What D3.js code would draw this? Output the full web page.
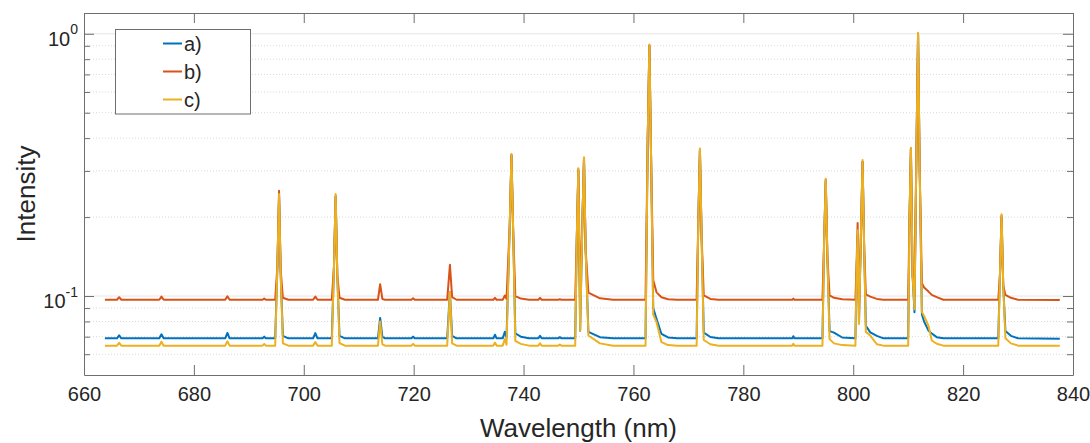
<!DOCTYPE html>
<html>
<head>
<meta charset="utf-8">
<script src="https://cdn.jsdelivr.net/npm/d3@7"></script>
<style>
  html, body { margin: 0; padding: 0; background: #fff; }
  svg { display: block; font-family: "Liberation Sans", Arial, Helvetica, sans-serif; }
</style>
</head>
<body>
<svg id="chart"></svg>
<script>
// wavelength grid (nm), shared by the three spectra
const wavelengths = [
  663.8, 666.0, 666.4, 666.8,
  673.7, 674.1, 674.5,
  685.7, 686.1, 686.5,
  692.5, 692.8, 693.1,
  694.8, 695.2, 695.5, 695.8, 696.2, 697.2,
  701.7, 702.1, 702.5,
  705.1, 705.5, 705.8, 706.1, 706.5, 707.5,
  713.5, 713.9, 714.3, 714.8,
  719.6, 719.9, 720.2,
  726.1, 726.6, 727.0, 727.8,
  734.5, 734.8, 735.1, 736.2, 736.6, 736.9,
  737.5, 737.8, 738.1, 738.5, 739.5, 741,
  742.7, 743, 743.3, 746.3, 746.6, 746.9,
  749.4, 749.7, 749.97, 750.3, 750.7, 751.0, 751.3, 751.8, 753.9, 756.3,
  762.2, 762.6, 762.9, 763.2, 763.6, 764.2, 765.1, 766.3, 768,
  771.5, 771.8, 772.1, 772.4, 772.8, 774, 775.5,
  788.9, 789.1, 789.3,
  794.4, 794.7, 795.0, 795.3, 795.7, 796.5, 798,
  800.4, 800.6, 800.8, 801.05, 801.4, 801.7, 802.0, 802.3, 803.1, 804.3, 805.5,
  810.0, 810.25, 810.5, 810.8, 811.15, 811.5, 811.8, 812.1, 812.5, 812.9, 813.7, 814.3, 815.2, 816.4,
  826.4, 826.7, 827.0, 827.3, 827.7, 828.7, 830, 837.6
]

// a)
const seriesA = [
  .069, .069, .0708, .069,
  .069, .0715, .069,
  .069, .0723, .069,
  .069, .07, .069,
  .069, .13, .24, .12, .0705, .069,
  .069, .0722, .069,
  .069, .13, .24, .12, .0705, .069,
  .069, .0825, .07, .069,
  .069, .07, .069,
  .069, .1036, .0705, .069,
  .069, .0712, .069, .069, .073, .0695,
  .19, .345, .18, .072, .07, .069,
  .069, .0705, .069, .069, .0697, .069,
  .069, .17, .30, .0738, .19, .335, .15, .073, .0697, .069,
  .069, .4, .90, .35, .09, .0818, .0717, .0695, .069,
  .069, .19, .36, .17, .0725, .0698, .069,
  .069, .0703, .069,
  .069, .16, .275, .14, .0735, .0725, .0695,
  .069, .12, .17, .079, .17, .325, .15, .077, .0727, .0705, .069,
  .069, .2, .365, .12, .0867, .35, 1.0, .3, .085, .08, .0738, .072, .0697, .069,
  .069, .12, .2, .11, .0735, .0705, .069, .0688
]

// b)
const seriesB = [
  .0968, .0968, .099, .0968,
  .0968, .0995, .0968,
  .0968, .0998, .0968,
  .0968, .0978, .0968,
  .0968, .13, .252, .125, .0985, .0968,
  .0968, .0995, .0968,
  .0968, .13, .24, .12, .0985, .0968,
  .0968, .111, .0975, .0968,
  .0968, .098, .0968,
  .0968, .1315, .099, .0968,
  .0968, .0985, .0968, .0968, .1005, .0975,
  .19, .345, .18, .1, .0978, .0968,
  .0968, .0985, .0968, .0968, .0972, .0968,
  .0968, .17, .305, .1, .19, .335, .15, .103, .098, .0968,
  .0968, .4, .905, .35, .115, .1033, .099, .0972, .0968,
  .0968, .19, .36, .17, .1005, .0975, .0968,
  .0968, .0978, .0968,
  .0968, .16, .278, .14, .1005, .0985, .0972,
  .0968, .13, .19, .09, .17, .325, .15, .1015, .0995, .0975, .0968,
  .0968, .2, .365, .12, .1, .35, 1.0, .3, .112, .1078, .104, .101, .099, .0968,
  .0968, .12, .203, .11, .101, .0985, .0968, .0965
]

// c)
const seriesC = [
  .0647, .0647, .0663, .0647,
  .0647, .067, .0647,
  .0647, .0672, .0647,
  .0647, .0656, .0647,
  .0647, .13, .245, .12, .066, .0647,
  .0647, .0668, .0647,
  .0647, .13, .245, .12, .0662, .0647,
  .0647, .08, .0655, .0647,
  .0647, .0657, .0647,
  .0647, .1036, .066, .0647,
  .0647, .0665, .0647, .0647, .0685, .0652,
  .19, .348, .18, .0675, .0657, .0647,
  .0647, .066, .0647, .0647, .0653, .0647,
  .0647, .17, .307, .0738, .19, .338, .15, .0707, .066, .0647,
  .0647, .4, .91, .35, .085, .0795, .0667, .065, .0647,
  .0647, .19, .365, .17, .068, .0655, .0647,
  .0647, .0657, .0647,
  .0647, .16, .28, .14, .0685, .066, .065,
  .0647, .12, .178, .0783, .17, .33, .15, .073, .0707, .0655, .0647,
  .0647, .2, .368, .12, .089, .35, 1.01, .3, .087, .084, .077, .0677, .0658, .0647,
  .0647, .12, .205, .11, .069, .066, .0647, .0646
]

const seriesNames = ['a)', 'b)', 'c)']
const seriesColors = ['#0072BD', '#D95319', '#EDB120']

const xTicks = [660, 680, 700, 720, 740, 760, 780, 800, 820, 840]
const yMajorTicks = [0.1, 1]
const yMinorTicks = [0.06, 0.07, 0.08, 0.09, 0.2, 0.3, 0.4, 0.5, 0.6, 0.7, 0.8, 0.9]
const yTickExponents = ['-1', '0']

const width = 1090
const height = 443
const margin = { top: 13, right: 17, bottom: 68, left: 84 }
const plotW = width - margin.left - margin.right
const plotH = height - margin.top - margin.bottom

const svg = d3.select('#chart')
  .attr('width', width)
  .attr('height', height)
  .attr('viewBox', `0 0 ${width} ${height}`)

const x = d3.scaleLinear().domain([660, 840]).range([margin.left, margin.left + plotW])
const y = d3.scaleLog().domain([0.05, 1.2]).range([margin.top + plotH, margin.top])

const AXIS_COLOR = '#6e6e6e'
const TEXT_COLOR = '#262626'

// grid
const grid = svg.append('g').attr('class', 'grid')
grid.selectAll('line.minor')
  .data(yMinorTicks)
  .enter()
  .append('line')
  .attr('class', 'minor')
  .attr('x1', x(660)).attr('x2', x(840))
  .attr('y1', d => y(d)).attr('y2', d => y(d))
  .attr('stroke', '#d9d9d9')
  .attr('stroke-width', 1)
  .attr('stroke-dasharray', '1,2')
grid.selectAll('line.major')
  .data(yMajorTicks)
  .enter()
  .append('line')
  .attr('class', 'major')
  .attr('x1', x(660)).attr('x2', x(840))
  .attr('y1', d => y(d)).attr('y2', d => y(d))
  .attr('stroke', '#e6e6e6')
  .attr('stroke-width', 1)

// spectra
if (seriesA.length !== wavelengths.length || seriesB.length !== wavelengths.length || seriesC.length !== wavelengths.length) {
  console.log('length mismatch', wavelengths.length, seriesA.length, seriesB.length, seriesC.length)
}

const line = d3.line()
  .x(d => x(d[0]))
  .y(d => y(d[1]))

const allSeries = [seriesA, seriesB, seriesC]
svg.append('defs').append('clipPath').attr('id', 'plot-clip')
  .append('rect')
  .attr('x', margin.left).attr('y', margin.top)
  .attr('width', plotW).attr('height', plotH)

svg.append('g')
  .attr('clip-path', 'url(#plot-clip)')
  .selectAll('path')
  .data(allSeries)
  .enter()
  .append('path')
  .attr('d', vals => line(wavelengths.map((w, i) => [w, vals[i]])))
  .attr('fill', 'none')
  .attr('stroke', (d, i) => seriesColors[i])
  .attr('stroke-width', 2)
  .attr('stroke-linejoin', 'round')

// axes
function styleAxis(g) {
  g.selectAll('path.domain').attr('stroke', AXIS_COLOR)
  g.selectAll('.tick line').attr('stroke', AXIS_COLOR)
  g.selectAll('text')
    .attr('fill', TEXT_COLOR)
    .attr('font-size', '20px')
    .attr('font-family', '"Liberation Sans", Arial, sans-serif')
}

svg.append('g')
  .attr('transform', `translate(0,${margin.top + plotH})`)
  .call(d3.axisBottom(x).tickValues(xTicks).tickSize(-10).tickSizeOuter(0).tickPadding(12).tickFormat(d3.format('d')))
  .call(styleAxis)

svg.append('g')
  .attr('transform', `translate(0,${margin.top})`)
  .call(d3.axisTop(x).tickValues(xTicks).tickSize(-10).tickSizeOuter(0).tickFormat(''))
  .call(styleAxis)

svg.append('g')
  .attr('transform', `translate(${margin.left},0)`)
  .call(d3.axisLeft(y).tickValues(yMajorTicks).tickSize(-10).tickSizeOuter(0).tickPadding(6).tickFormat(() => ''))
  .call(styleAxis)

svg.append('g')
  .attr('transform', `translate(${margin.left},0)`)
  .call(d3.axisLeft(y).tickValues(yMinorTicks).tickSize(-6).tickSizeOuter(0).tickFormat(''))
  .call(styleAxis)
  .select('path.domain').remove()

svg.append('g')
  .attr('transform', `translate(${margin.left + plotW},0)`)
  .call(d3.axisRight(y).tickValues(yMajorTicks).tickSize(-10).tickSizeOuter(0).tickFormat(''))
  .call(styleAxis)

svg.append('g')
  .attr('transform', `translate(${margin.left + plotW},0)`)
  .call(d3.axisRight(y).tickValues(yMinorTicks).tickSize(-6).tickSizeOuter(0).tickFormat(''))
  .call(styleAxis)
  .select('path.domain').remove()

// 10^n labels
const yLabels = svg.append('g')
yMajorTicks.forEach((v, i) => {
  const t = yLabels.append('text')
    .attr('x', margin.left - 6)
    .attr('y', y(v) + 12)
    .attr('text-anchor', 'end')
    .attr('fill', TEXT_COLOR)
    .attr('font-size', '20px')
  t.append('tspan').text('10')
  t.append('tspan')
    .attr('font-size', '14px')
    .attr('dy', -11.5)
    .text(yTickExponents[i])
})

// axis titles
svg.append('text')
  .attr('x', margin.left + plotW / 2)
  .attr('y', 437)
  .attr('text-anchor', 'middle')
  .attr('fill', TEXT_COLOR)
  .attr('font-size', '26px')
  .text('Wavelength (nm)')

svg.append('text')
  .attr('transform', `translate(35,${margin.top + plotH / 2}) rotate(-90)`)
  .attr('text-anchor', 'middle')
  .attr('fill', TEXT_COLOR)
  .attr('font-size', '26px')
  .text('Intensity')

// legend
const legend = svg.append('g')
legend.append('rect')
  .attr('x', 115.5).attr('y', 29.5)
  .attr('width', 135).attr('height', 84.5)
  .attr('fill', '#fff')
  .attr('stroke', '#6e6e6e')
  .attr('stroke-width', 1)

const rows = legend.selectAll('g.row')
  .data(seriesNames)
  .enter()
  .append('g')
  .attr('class', 'row')
  .attr('transform', (d, i) => `translate(0,${43.5 + i * 28})`)

rows.append('line')
  .attr('x1', 163).attr('x2', 182)
  .attr('y1', 0).attr('y2', 0)
  .attr('stroke', (d, i) => seriesColors[i])
  .attr('stroke-width', 2)

rows.append('text')
  .attr('x', 184)
  .attr('y', 7)
  .attr('fill', TEXT_COLOR)
  .attr('font-size', '20px')
  .text(d => d)
</script>
</body>
</html>
